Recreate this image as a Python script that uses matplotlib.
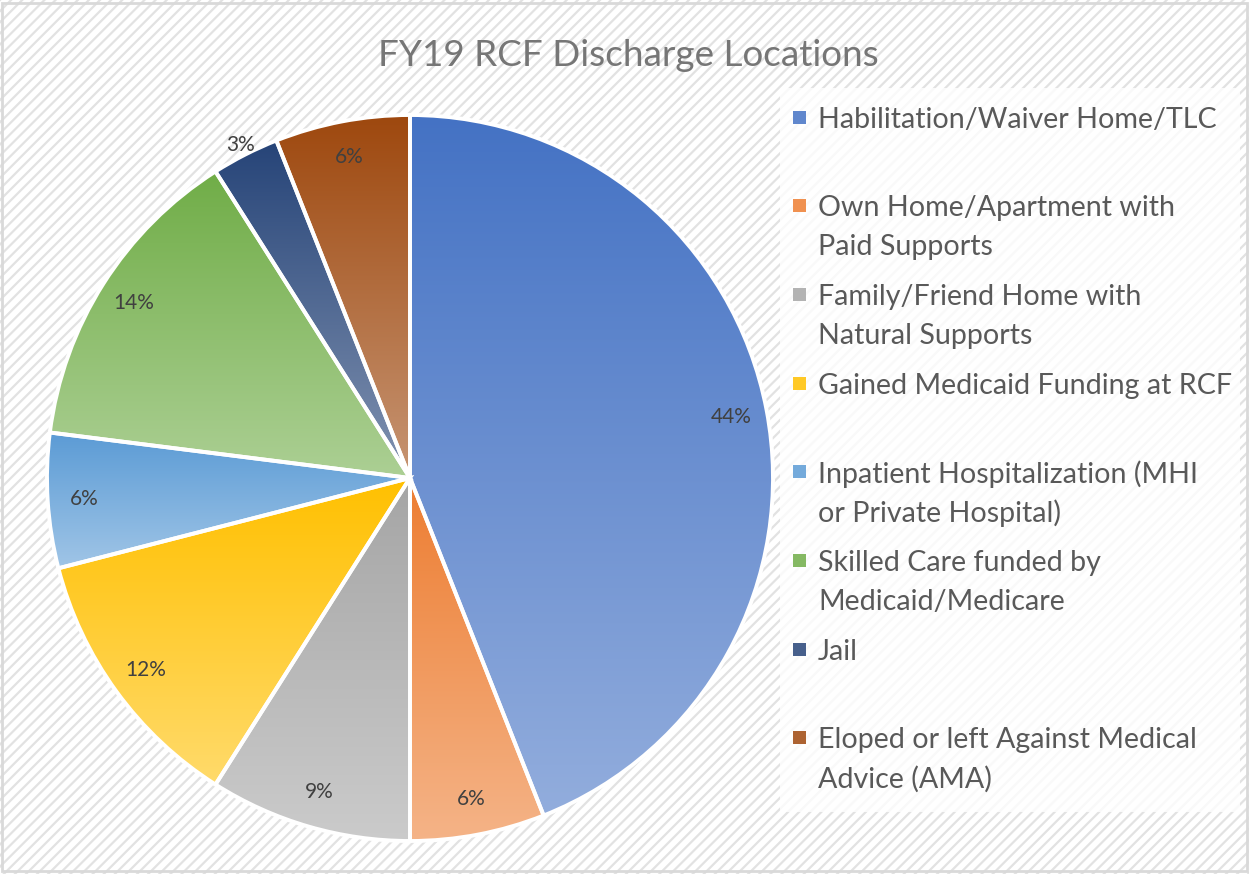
import numpy as np
import matplotlib
matplotlib.use("Agg")
from matplotlib import pyplot as plt
from matplotlib.patches import Rectangle
from matplotlib.colors import to_rgb

plt.rcParams['font.family'] = ['Lato', 'DejaVu Sans']
plt.rcParams['hatch.linewidth'] = 1.6

title = "FY19 RCF Discharge Locations"
labels = ["Habilitation/Waiver Home/TLC",
          "Own Home/Apartment with\nPaid Supports",
          "Family/Friend Home with\nNatural Supports",
          "Gained Medicaid Funding at RCF",
          "Inpatient Hospitalization (MHI\nor Private Hospital)",
          "Skilled Care funded by\nMedicaid/Medicare",
          "Jail",
          "Eloped or left Against Medical\nAdvice (AMA)"]
shares = [44, 6, 9, 12, 6, 14, 3, 6]
colors = ["#4472C4", "#ED7D31", "#A5A5A5", "#FFC000",
          "#5B9BD5", "#70AD47", "#264478", "#9E480E"]

W, H = 1249, 874
fig = plt.figure(figsize=(W / 100, H / 100), dpi=100)
fig.patch.set_facecolor("white")

# hatched background with light border
bg = fig.add_axes([0, 0, 1, 1])
bg.set_xlim(0, 1)
bg.set_ylim(0, 1)
bg.axis("off")
bg.add_patch(Rectangle((0, 0), 1, 1, facecolor="white", edgecolor="#e2e2e2",
                       hatch="///", linewidth=0))
bg.add_patch(Rectangle((0.002, 0.003), 0.996, 0.994, facecolor="none",
                       edgecolor="#d9d9d9", linewidth=2))

# white-ish legend box
bg.add_patch(Rectangle((780 / W, 1 - 812 / H), 460 / W, (812 - 88) / H,
                       facecolor="white", edgecolor="none", alpha=0.8))


def lighten(c, f):
    r = np.array(to_rgb(c))
    return r + (1 - r) * f


# pie axes: centre (410, 478) px, radius 363 px
cx, cy, r = 410, 478, 363
ax = fig.add_axes([(cx - r) / W, 1 - (cy + r) / H, 2 * r / W, 2 * r / H])
wedges, texts, autotexts = ax.pie(
    shares, colors=colors, startangle=90, counterclock=False, radius=1,
    autopct=lambda p: f"{p:.0f}%", pctdistance=0.9,
    wedgeprops=dict(edgecolor="white", linewidth=2.8),
    textprops=dict(color="#404040", fontsize=15))

for w, c in zip(wedges, colors):
    bb = w.get_path().get_extents()
    top = lighten(c, 0.0)
    bot = lighten(c, 0.42)
    t = np.linspace(0, 1, 256)[:, None]
    grad = top[None, :] * (1 - t) + bot[None, :] * t
    grad = np.repeat(grad[:, None, :], 2, axis=1)
    im = ax.imshow(grad, extent=[bb.x0, bb.x1, bb.y0, bb.y1], origin="upper",
                   aspect="auto", zorder=w.get_zorder() + 0.1,
                   interpolation="bilinear")
    im.set_clip_path(w)
    w.set_facecolor("none")
    w.set_zorder(w.get_zorder() + 0.2)

for t in autotexts:
    t.set_zorder(10)
# the small "Jail" label sits just outside the rim
x, y = autotexts[6].get_position()
autotexts[6].set_position((x * 1.03 / 0.9, y * 1.03 / 0.9))

ax.set_xlim(-1, 1)
ax.set_ylim(-1, 1)
ax.set_aspect("auto")
ax.axis("off")

fig.text(628 / W, 1 - 56 / H, title, ha="center", va="center",
         fontsize=26.6, color="#767676")

# legend: entries evenly spaced, wrapped lines 39 px apart
step = 88.7
for i, (lab, c) in enumerate(zip(labels, colors)):
    yc = 117 + i * step
    bg.add_patch(Rectangle((793 / W, 1 - (yc + 6.5) / H), 13 / W, 13 / H,
                           facecolor=lighten(c, 0.15), edgecolor="none"))
    for j, line in enumerate(lab.split("\n")):
        fig.text(818 / W, 1 - (yc + 39 * j) / H, line, ha="left",
                 va="center_baseline", fontsize=20.6, color="#595959")

fig.savefig("out.png", dpi=100)
